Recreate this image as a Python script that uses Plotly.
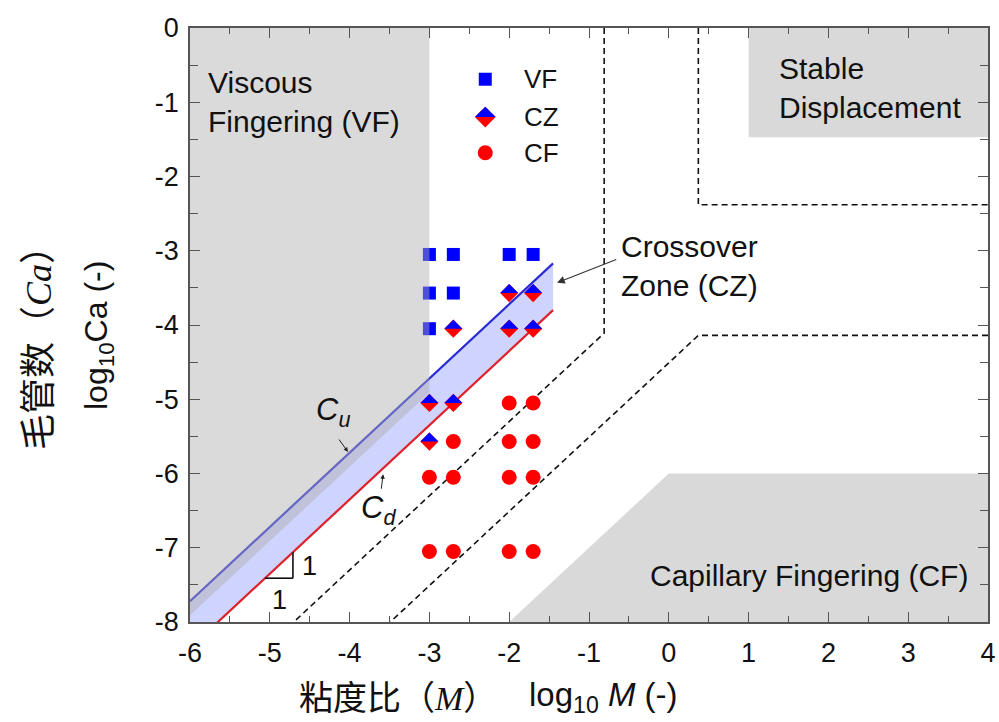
import plotly.graph_objects as go

# ---------------- data ----------------
x_ticks = [-6, -5, -4, -3, -2, -1, 0, 1, 2, 3, 4]
x_ticklabels = ["-6", "-5", "-4", "-3", "-2", "-1", "0", "1", "2", "3", "4"]
y_ticks = [0, -1, -2, -3, -4, -5, -6, -7, -8]
y_ticklabels = ["0", "-1", "-2", "-3", "-4", "-5", "-6", "-7", "-8"]

vf_x = [-3, -2.7, -2, -1.7, -3, -2.7, -3]
vf_y = [-3.05, -3.05, -3.05, -3.05, -3.57, -3.57, -4.05]
cz_x = [-2, -1.7, -2.7, -2, -1.7, -3, -2.7, -3]
cz_y = [-3.57, -3.57, -4.05, -4.05, -4.05, -5.05, -5.05, -5.57]
cf_x = [-2, -1.7, -2.7, -2, -1.7, -3, -2.7, -2, -1.7, -3, -2.7, -2, -1.7]
cf_y = [-5.05, -5.05, -5.57, -5.57, -5.57, -6.05, -6.05, -6.05, -6.05,
        -7.05, -7.05, -7.05, -7.05]

# slope-1 boundary lines  log10Ca = log10M + c
cu_intercept = -1.72
cd_intercept = -2.35
band_x = [-6, -1.45]

# regime regions
vf_region_x = [-6, -3, -3, -6]
vf_region_y = [0, 0, -4.91, -7.91]
stable_region_x = [1, 4, 4, 1]
stable_region_y = [0, 0, -1.47, -1.47]
cf_region_x = [-2, 0, 4, 4]
cf_region_y = [-8, -6, -6, -8]

# dashed boundaries
dash1_x = [-0.81, -0.81, -4.70]
dash1_y = [0, -4.11, -8]
dash2_x = [0.37, 0.37, 4]
dash2_y = [0, -2.38, -2.38]
dash3_x = [4, 0.37, -3.49]
dash3_y = [-4.14, -4.14, -8]

legend_labels = ["VF", "CZ", "CF"]
legend_y = [-0.69, -1.20, -1.68]
legend_x = -2.30
legend_text_x = -1.84

# ---------------- layout geometry ----------------
W, H = 999, 722
PL, PR, PT, PB = 190, 988, 28, 622        # plot area in page pixels
ML, MT = PL, PT
MR = W - PR
MB = H - PB
XR = [-6, 4]
YR = [-8, 0]
px_x = (PR - PL) / (XR[1] - XR[0])
px_y = (PB - PT) / (YR[1] - YR[0])


def paper_x(px):
    return (px - PL) / (PR - PL)


def paper_y(py):
    return 1 - (py - PT) / (PB - PT)


GRAY = "#d9d9d9"
BLUE_LINE = "#2b2bd6"
RED_LINE = "#e0202a"
FONT = "Liberation Sans, Arial, sans-serif"
CJK = "Noto Sans CJK SC"
MATH = "Liberation Serif"

fig = go.Figure()

# opaque gray regions
for rx, ry in [(stable_region_x, stable_region_y), (cf_region_x, cf_region_y)]:
    fig.add_trace(go.Scatter(x=rx + [rx[0]], y=ry + [ry[0]], mode="lines",
                             fill="toself", fillcolor=GRAY, line=dict(width=0),
                             hoverinfo="skip", showlegend=False))

# crossover band
cu = [x + cu_intercept for x in band_x]
cd = [x + cd_intercept for x in band_x]
fig.add_trace(go.Scatter(x=[band_x[0], band_x[1], band_x[1], band_x[0], band_x[0]],
                         y=[cu[0], cu[1], cd[1], cd[0], cu[0]],
                         mode="lines", fill="toself",
                         fillcolor="rgba(30,60,250,0.22)", line=dict(width=0),
                         hoverinfo="skip", showlegend=False))
fig.add_trace(go.Scatter(x=band_x, y=cu, mode="lines",
                         line=dict(color=BLUE_LINE, width=2.2), showlegend=False))
fig.add_trace(go.Scatter(x=band_x, y=cd, mode="lines",
                         line=dict(color=RED_LINE, width=2.2), showlegend=False))

# dashed boundaries
for dx_, dy_ in [(dash1_x, dash1_y), (dash2_x, dash2_y), (dash3_x, dash3_y)]:
    fig.add_trace(go.Scatter(x=dx_, y=dy_, mode="lines",
                             line=dict(color="#111111", width=1.6, dash="6px,4px"),
                             showlegend=False))

# data markers
fig.add_trace(go.Scatter(x=vf_x, y=vf_y, mode="markers",
                         marker=dict(symbol="square", size=13, color="#0000ff"),
                         showlegend=False))
fig.add_trace(go.Scatter(x=cf_x, y=cf_y, mode="markers",
                         marker=dict(symbol="circle", size=15, color="#ff0000"),
                         showlegend=False))


def half_diamonds(xs, ys, half_px):
    """upper halves of diamonds (blue) in data units"""
    hx, hy = half_px / px_x, half_px / px_y
    px, py = [], []
    for x, y in zip(xs, ys):
        px += [x - hx, x, x + hx, x - hx, None]
        py += [y, y + hy, y, y, None]
    return px, py


fig.add_trace(go.Scatter(x=cz_x, y=cz_y, mode="markers",
                         marker=dict(symbol="diamond", size=14, color="#ff0000"),
                         showlegend=False))
hdx, hdy = half_diamonds(cz_x, cz_y, 9)
fig.add_trace(go.Scatter(x=hdx, y=hdy, mode="lines", fill="toself",
                         fillcolor="#0000ff", line=dict(width=0),
                         hoverinfo="skip", showlegend=False))

# legend (drawn manually)
fig.add_trace(go.Scatter(x=[legend_x], y=[legend_y[0]], mode="markers",
                         marker=dict(symbol="square", size=13, color="#0000ff"),
                         showlegend=False))
fig.add_trace(go.Scatter(x=[legend_x], y=[legend_y[1]], mode="markers",
                         marker=dict(symbol="diamond", size=16, color="#ff0000"),
                         showlegend=False))
lhx, lhy = half_diamonds([legend_x], [legend_y[1]], 10.4)
fig.add_trace(go.Scatter(x=lhx, y=lhy, mode="lines", fill="toself",
                         fillcolor="#0000ff", line=dict(width=0),
                         hoverinfo="skip", showlegend=False))
fig.add_trace(go.Scatter(x=[legend_x], y=[legend_y[2]], mode="markers",
                         marker=dict(symbol="circle", size=15, color="#ff0000"),
                         showlegend=False))

# semi-transparent viscous-fingering region on top
fig.add_trace(go.Scatter(x=vf_region_x + [vf_region_x[0]], y=vf_region_y + [vf_region_y[0]],
                         mode="lines", fill="toself",
                         fillcolor="rgba(172,172,172,0.45)", line=dict(width=0),
                         hoverinfo="skip", showlegend=False))

ann = []
for lab, ly in zip(legend_labels, legend_y):
    ann.append(dict(x=legend_text_x, y=ly, text=lab, showarrow=False, xanchor="left",
                    yanchor="middle", font=dict(size=26, family=FONT, color="#111")))

txt_font = dict(size=30, family=FONT, color="#111")
ann += [
    dict(x=-5.80, y=-1.00, text="Viscous<br>Fingering (VF)", showarrow=False,
         xanchor="left", yanchor="middle", align="left", font=txt_font),
    dict(x=1.35, y=-0.81, text="Stable<br>Displacement", showarrow=False,
         xanchor="left", yanchor="middle", align="left", font=txt_font),
    dict(x=-0.63, y=-3.20, text="Crossover<br>Zone (CZ)", showarrow=False,
         xanchor="left", yanchor="middle", align="left", font=txt_font),
    dict(x=3.77, y=-7.37, text="Capillary Fingering (CF)", showarrow=False,
         xanchor="right", yanchor="middle", font=txt_font),
    # Crossover arrow
    dict(x=-1.40, y=-3.43, ax=-0.64, ay=-3.11, axref="x", ayref="y", xref="x", yref="y",
         text="", showarrow=True, arrowhead=2, arrowsize=1.4, arrowwidth=1.1,
         arrowcolor="#333"),
    # Cu, Cd labels
    dict(x=-4.21, y=-5.17, text="<i>C<sub>u</sub></i>", showarrow=False,
         font=dict(size=31, family=FONT, color="#111")),
    dict(x=-3.64, y=-6.49, text="<i>C<sub>d</sub></i>", showarrow=False,
         font=dict(size=31, family=FONT, color="#111")),
    dict(x=-4.02, y=-4.02 + cu_intercept + 0.03, ax=-10, ay=-14, text="", showarrow=True,
         arrowhead=2, arrowsize=0.9, arrowwidth=1, arrowcolor="#222"),
    dict(x=-3.58, y=-3.58 + cd_intercept - 0.08, ax=-2, ay=16, text="", showarrow=True,
         arrowhead=2, arrowsize=0.9, arrowwidth=1, arrowcolor="#222"),
    # slope labels
    dict(x=-4.50, y=-7.25, text="1", showarrow=False,
         font=dict(size=27, family=FONT, color="#111")),
    dict(x=-4.88, y=-7.70, text="1", showarrow=False,
         font=dict(size=27, family=FONT, color="#111")),
    # axis titles
    dict(xref="paper", yref="paper", x=paper_x(35), y=paper_y(339),
         xanchor="center", yanchor="middle", textangle=-90, showarrow=False,
         text=f"毛管数（<span style=\"font-family:{MATH}\"><i>Ca</i></span>）",
         font=dict(size=36, family=CJK, color="#111")),
    dict(xref="paper", yref="paper", x=paper_x(98), y=paper_y(336),
         xanchor="center", yanchor="middle", textangle=-90, showarrow=False,
         text="log<sub>10</sub>Ca (-)",
         font=dict(size=32, family=FONT, color="#111")),
    dict(xref="paper", yref="paper", x=paper_x(499), y=paper_y(695),
         xanchor="right", yanchor="middle", showarrow=False,
         text=f"粘度比（<span style=\"font-family:{MATH}\"><i>M</i></span>）",
         font=dict(size=34, family=CJK, color="#111")),
    dict(xref="paper", yref="paper", x=paper_x(527), y=paper_y(697),
         xanchor="left", yanchor="middle", showarrow=False,
         text="log<sub>10</sub> <i>M</i> (-)",
         font=dict(size=33, family=FONT, color="#111")),
]

# slope triangle under the Cd line
tri_x0, tri_x1 = -5.06, -4.71
shapes = [
    dict(type="line", x0=tri_x0, y0=tri_x0 + cd_intercept, x1=tri_x1, y1=tri_x0 + cd_intercept,
         line=dict(color="#111", width=1.6)),
    dict(type="line", x0=tri_x1, y0=tri_x0 + cd_intercept, x1=tri_x1, y1=tri_x1 + cd_intercept,
         line=dict(color="#111", width=1.6)),
]

axis_common = dict(showgrid=False, zeroline=False, ticks="inside", ticklen=10,
                   tickwidth=1.3, tickcolor="#555", showline=True, linecolor="#555",
                   linewidth=1.5, mirror="ticks", automargin=False,
                   ticklabeloverflow="allow",
                   tickfont=dict(size=27, family=FONT, color="#111"))

fig.update_layout(
    width=W, height=H,
    margin=dict(l=ML, r=MR, t=MT, b=MB, pad=0),
    plot_bgcolor="white", paper_bgcolor="white",
    xaxis=dict(range=XR, tickvals=x_ticks, ticktext=x_ticklabels,
               minor=dict(ticks="inside", ticklen=6, dtick=0.5, tickcolor="#555"),
               ticklabelstandoff=6, **axis_common),
    yaxis=dict(range=YR, tickvals=y_ticks, ticktext=y_ticklabels,
               minor=dict(ticks="inside", ticklen=8, dtick=0.5, tickcolor="#555"),
               ticklabelstandoff=4, **axis_common),
    annotations=ann, shapes=shapes, showlegend=False,
)

# remove the browser's default 8px body margin so the figure sits at (0, 0)
fig.write_html("out.html",
               config={"displayModeBar": False},
               post_script="document.body.style.margin='0px';"
                           "document.body.style.overflow='hidden';")
